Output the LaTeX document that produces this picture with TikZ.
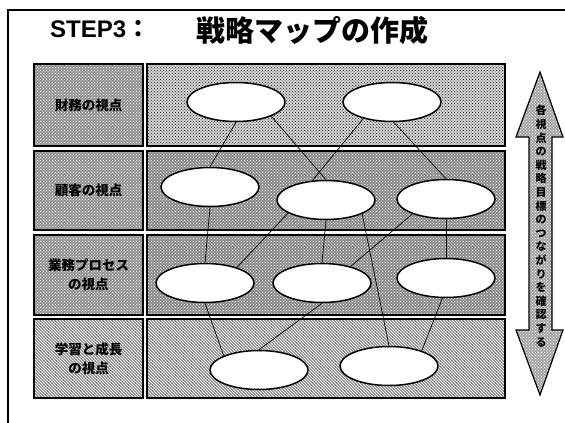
\documentclass[tikz,border=0pt]{standalone}
\usepackage{fontspec}
\setmainfont{Liberation Sans}
\newfontfamily\cjk{Noto Sans CJK JP}
\usetikzlibrary{patterns,shapes.geometric}
\begin{document}
\begin{tikzpicture}[x=1pt,y=-1pt,
  boxline/.style={draw, line width=1.5pt, inner sep=0pt},
  labelbox/.style={boxline, minimum width=109pt, preaction={fill=black!42}, pattern=crosshatch dots, pattern color=white,
     font=\cjk\bfseries\fontsize{13.5}{19}\selectfont, align=center, text=black},
  rowA/.style={boxline, minimum width=358pt, preaction={fill=black!18}, pattern=crosshatch dots, pattern color=black!85},
  rowB/.style={boxline, minimum width=358pt, preaction={fill=black!45}, pattern=crosshatch dots, pattern color=white},
  rowC/.style={boxline, minimum width=358pt, preaction={fill=black!42}, pattern=north west lines, pattern color=white},
  goal/.style={ellipse, draw, line width=1.5pt, fill=white, minimum width=98pt, minimum height=39pt, inner sep=0pt},
  conn/.style={draw, line width=0.7pt},
  bigarrow/.style={draw, line width=1.2pt, preaction={fill=black!35}, pattern=crosshatch dots, pattern color=white}
]
\useasboundingbox (0,0) rectangle (565,423);
% frame
\draw[line width=2pt] (8,423) -- (8,10) -- (565,10);
% title
\node[anchor=base west, inner sep=0pt, font=\bfseries\fontsize{24}{28}\selectfont] (title) at (50,37) {STEP3{\cjk ：}};
\node[anchor=base west, inner sep=0pt, font=\cjk\bfseries\fontsize{29}{32}\selectfont] (title2) at (196,41) {戦略マップの作成};
% rows
\node[labelbox, minimum height=82pt] (L1) at (88.5,105) {財務の視点};
\node[labelbox, minimum height=79pt] (L2) at (88.5,190.5) {顧客の視点};
\node[labelbox, minimum height=80pt] (L3) at (88.5,275) {業務プロセス\\の視点};
\node[labelbox, minimum height=79pt, pattern=north west lines] (L4) at (88.5,358.5) {学習と成長\\の視点};
\node[rowA, minimum height=82pt] (M1) at (326,105) {};
\node[rowB, minimum height=79pt] (M2) at (326,190.5) {};
\node[rowB, minimum height=80pt] (M3) at (326,275) {};
\node[rowC, minimum height=79pt] (M4) at (326,358.5) {};
% goals
\node[goal] (E1) at (236,102) {};
\node[goal] (E2) at (392,102) {};
\node[goal] (E3) at (210,187) {};
\node[goal] (E4) at (326,200) {};
\node[goal] (E5) at (446,199) {};
\node[goal] (E6) at (205,283) {};
\node[goal] (E7) at (322,283) {};
\node[goal] (E8) at (446,278) {};
\node[goal] (E9) at (259,370) {};
\node[goal] (E10) at (389,366) {};
% connectors
\draw[conn] (E1.south) -- (E3.north);
\draw[conn] (E1.-22) -- (E4.north);
\draw[conn] (E2.-150) -- (E4.125);
\draw[conn] (E2.-85) -- (E5.north);
\draw[conn] (E3.south) -- (E6.north);
\draw[conn] (E4.-161) -- (E6.26);
\draw[conn] (E4.south) -- (E7.north);
\draw[conn] (E4.-21) -- (E10.north);
\draw[conn] (E5.-156) -- (E7.30);
\draw[conn] (E5.south) -- (E8.north);
\draw[conn] (E6.south) -- (E9.158);
\draw[conn] (E7.south) -- (E9.north);
\draw[conn] (E8.-100) -- (E10.25);
% double arrow
\path[bigarrow] (540,72) -- (563,137) -- (552,137) -- (552,330) -- (563,330) -- (540,395)
  -- (516,330) -- (529,330) -- (529,137) -- (516,137) -- cycle;
\node[font=\cjk\bfseries\fontsize{11}{13.6}\selectfont, align=center, inner sep=0pt] (vtext) at (541,226)
  {各\\視\\点\\の\\戦\\略\\目\\標\\の\\つ\\な\\が\\り\\を\\確\\認\\す\\る};
\end{tikzpicture}
\end{document}
